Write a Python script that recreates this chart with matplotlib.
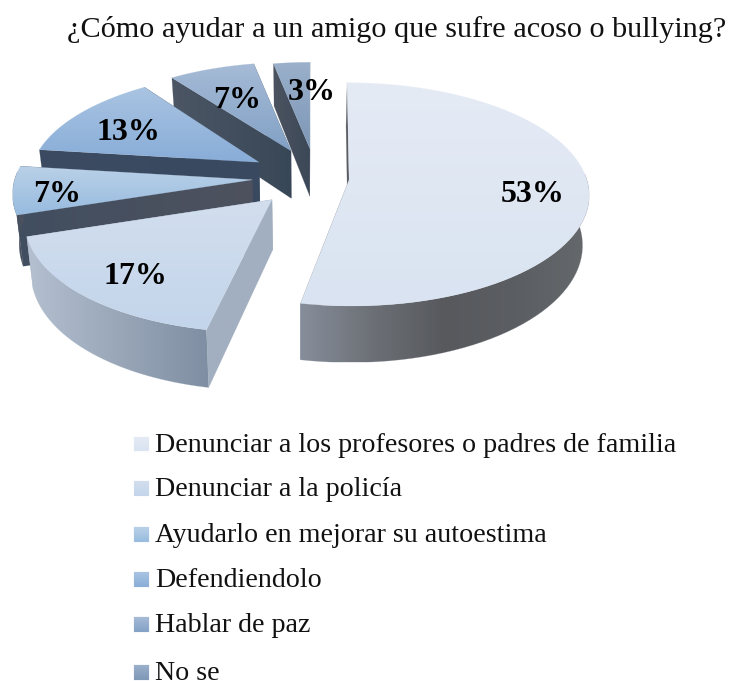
import numpy as np
import matplotlib
matplotlib.use('Agg')
import matplotlib.pyplot as plt
from matplotlib.patches import Polygon
from matplotlib.colors import LinearSegmentedColormap

# Data
title = '¿Cómo ayudar a un amigo que sufre acoso o bullying?'
categories = ['Denunciar a los profesores o padres de familia', 'Denunciar a la policía',
              'Ayudarlo en mejorar su autoestima', 'Defendiendolo', 'Hablar de paz', 'No se']
values = [53, 17, 7, 13, 7, 3]

# Face colours, top and bottom of each gradient
top_hi = ['#e5ebf5', '#d2deee', '#bad1e8', '#aac4e2', '#a6bbd6', '#9ab0cb']
top_lo = ['#d9e3f1', '#c3d5eb', '#97bbdf', '#88add8', '#82a1c6', '#7d97b6']
wall_colors = [['#878e9b', '#6c7076', '#57595d', '#5b5e62', '#66696c'], ['#b4c0d0', '#7f8ea2'],
               ['#414e60', '#4e525e'], ['#3c4b60', '#384960'], ['#4c5665', '#384757'],
               ['#4c5360', '#3c4858']]
side_colors = ['#5a5d62', '#a2afc0', '#414e60', '#384960', '#3c4a5c', '#4a5260']

# Projection settings for the tilted pie
vx, vy = 300, 177
rad_x, rad_y = 237, 109
persp = 0.13
ex, ey = 0.208, 0.27
height = 49
shrink = 0.977
nudge = [0, 4.6, 1.5, 1.5, 10.6, 14.6]
size = [1, 1, 1, 0.97, 0.97, 0.95]
skew = [0.02, -0.1, 0, -0.08, 0, 0]
label_pos = [(533, 194), (135, 277), (57, 194), (128, 133), (237, 100), (312, 92)]
legend_y = [444, 488.5, 534.5, 579.5, 624.5, 672.5]

fig = plt.figure(figsize=(7.34, 6.81), dpi=100)
ax = fig.add_axes([0, 0, 1, 1])
plt.rcParams['font.family'] = 'Liberation Serif'


def project(i, mid, t, r=1.0):
    r = r * size[i]
    yt = ey * np.cos(mid) + r * np.cos(t)
    s = 1 / (1 + persp * yt)
    s0 = 1 / (1 + persp * ey * np.cos(mid))
    y = vy - rad_y * yt * s
    y0 = vy - rad_y * ey * np.cos(mid) * s0
    x = vx + nudge[i] + rad_x * ex * np.sin(mid) + rad_x * r * np.sin(t) * s + skew[i] * (y - y0)
    return x, y, s


def lower(x, y, s):
    return vx + (x - vx) * shrink, y + height * s


def fill_gradient(points, colors, horizontal, zorder):
    points = np.array(points)
    cmap = LinearSegmentedColormap.from_list('g', colors)
    grad = np.linspace(0, 1, 256)
    grad = grad.reshape(1, -1) if horizontal else grad.reshape(-1, 1)
    x0, y0 = points.min(axis=0)
    x1, y1 = points.max(axis=0)
    im = ax.imshow(grad, cmap=cmap, extent=[x0, x1, y1, y0], aspect='auto', zorder=zorder,
                   interpolation='bilinear')
    patch = Polygon(points, closed=True, transform=ax.transData)
    im.set_clip_path(patch)
    # thin edge hides the rough clip border
    ax.add_patch(Polygon(points, closed=True, fill=False, edgecolor=colors[0], linewidth=0.3,
                         alpha=0.5, zorder=zorder))


edges = np.cumsum([0] + values) / sum(values) * 2 * np.pi
z = 1
# Draw back to front, so the last slice goes first
for i in range(len(values) - 1, -1, -1):
    t0, t1 = edges[i], edges[i + 1]
    mid = (t0 + t1) / 2
    ts = np.linspace(t0, t1, 80)
    xs, ys, ss = project(i, mid, ts)
    ax_, ay_, as_ = project(i, mid, 0.0, 0.0)
    bx, by = lower(xs, ys, ss)
    abx, aby = lower(ax_, ay_, as_)

    # radial walls, the hidden end wall first
    fill_gradient([(xs[-1], ys[-1]), (ax_, ay_), (abx, aby), (bx[-1], by[-1])],
                  wall_colors[i], True, z)
    fill_gradient([(xs[0], ys[0]), (ax_, ay_), (abx, aby), (bx[0], by[0])],
                  wall_colors[i] if i >= 2 else [side_colors[i], side_colors[i]], True, z)
    # outer wall, only the part that faces the viewer
    front = np.cos(ts) < 0.08
    if front.sum() > 1:
        outer = list(zip(xs[front], ys[front])) + list(zip(bx[front][::-1], by[front][::-1]))
        fill_gradient(outer, wall_colors[i], True, z + 1)
    # top face
    face = [(ax_, ay_)] + list(zip(xs, ys))
    fill_gradient(face, [top_hi[i], top_lo[i]], False, z + 2)
    z += 3

# Percent labels
for i, v in enumerate(values):
    ax.text(label_pos[i][0], label_pos[i][1], '%d%%' % v, fontsize=23, fontweight='bold', ha='center',
            va='center', family='Liberation Serif', color='black', zorder=50)

ax.text(67, 37, title, fontsize=21.8, family='Liberation Serif', va='baseline', ha='left', color='#111111')

# Legend
for i, name in enumerate(categories):
    row = legend_y[i]
    fill_gradient([(134, row - 7.5), (149, row - 7.5), (149, row + 7.5), (134, row + 7.5)],
                  [top_hi[i], top_lo[i]], False, 10)
    ax.text(155, row + 7.5, name, fontsize=20.2, family='Liberation Serif', va='baseline', ha='left',
            color='#111111')

ax.set_xlim(0, 734)
ax.set_ylim(681, 0)
ax.axis('off')
fig.savefig('out.png', dpi=100)
